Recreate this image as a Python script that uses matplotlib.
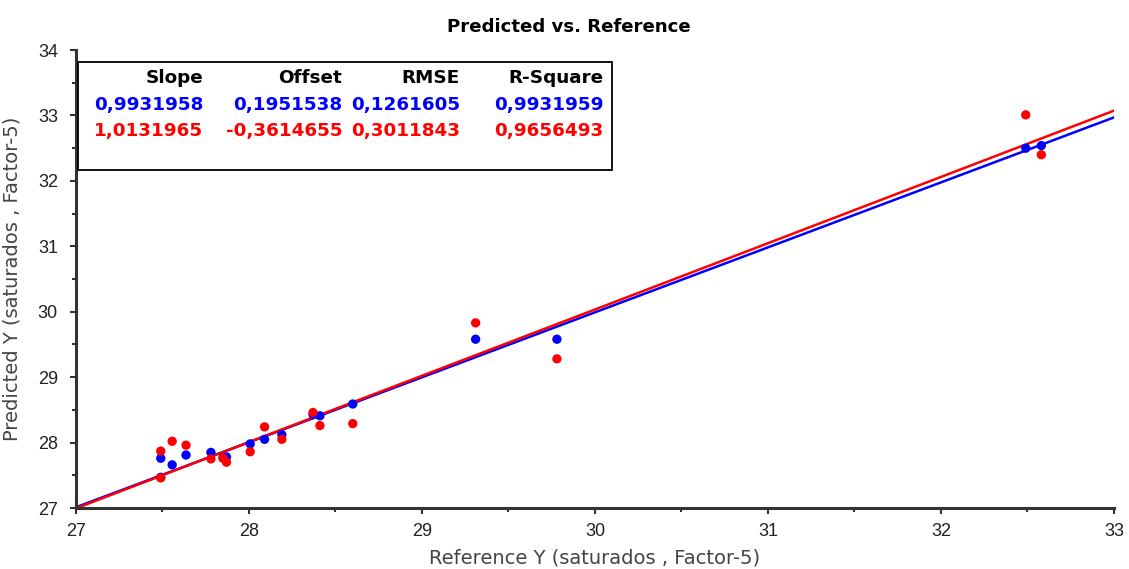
import matplotlib
matplotlib.use("Agg")
import matplotlib.pyplot as plt
import numpy as np
from matplotlib.ticker import MultipleLocator
from matplotlib.patches import Rectangle

plt.rcParams['font.family'] = ['DejaVu Sans']

# reference values (shared by both series)
reference = [27.49, 27.49, 27.556, 27.636, 27.78, 27.85, 27.87, 28.007, 28.09,
             28.19, 28.37, 28.41, 28.60, 29.31, 29.78, 32.49, 32.58]
# predicted, calibration (blue)
pred_blue = [27.76, 27.47, 27.66, 27.81, 27.85, 27.77, 27.78, 27.98, 28.05,
             28.12, 28.43, 28.41, 28.59, 29.58, 29.58, 32.50, 32.54]
# predicted, validation (red)
pred_red = [27.87, 27.46, 28.02, 27.96, 27.75, 27.76, 27.70, 27.86, 28.24,
            28.05, 28.46, 28.26, 28.29, 29.83, 29.28, 33.01, 32.40]

stat_names = ["Slope", "Offset", "RMSE", "R-Square"]
stats_blue = [0.9931958, 0.1951538, 0.1261605, 0.9931959]
stats_red = [1.0131965, -0.3614655, 0.3011843, 0.9656493]

BLUE = '#0000ff'
RED = '#ff0000'
AXIS_GREY = '#333333'


def fmt(v):
    return f"{v:.7f}".replace(".", ",")


fig = plt.figure(figsize=(11.29, 5.69), dpi=100)
ax = fig.add_axes([0.0673, 0.1072, 0.9194, 0.8048])

# regression lines from slope / offset
xs = np.array([27, 33])
ax.plot(xs, stats_blue[0] * xs + stats_blue[1], color=BLUE, lw=1.8, zorder=2)
ax.plot(xs, stats_red[0] * xs + stats_red[1], color=RED, lw=1.8, zorder=2)

ax.scatter(reference, pred_blue, s=45, color=BLUE, edgecolors='none', zorder=3)
ax.scatter(reference, pred_red, s=45, color=RED, edgecolors='none', zorder=4)

ax.set_xlim(27, 33)
ax.set_ylim(27, 34)
ax.xaxis.set_major_locator(MultipleLocator(1))
ax.xaxis.set_minor_locator(MultipleLocator(0.5))
ax.yaxis.set_major_locator(MultipleLocator(1))
ax.yaxis.set_minor_locator(MultipleLocator(0.5))

for side in ['top', 'right']:
    ax.spines[side].set_visible(False)
for side in ['left', 'bottom']:
    ax.spines[side].set_linewidth(2.2)
    ax.spines[side].set_color(AXIS_GREY)

ax.tick_params(which='major', length=4, width=1.5, colors=AXIS_GREY,
               labelsize=13, labelcolor='#222222', labelfontfamily='Liberation Sans')
ax.tick_params(which='minor', length=3, width=1.5, colors=AXIS_GREY)
ax.tick_params(axis='x', which='major', pad=7)
ax.tick_params(axis='y', which='major', pad=9)

fig.text(0.504, 0.953, "Predicted vs. Reference", ha='center', va='center',
         fontsize=13.1, fontweight='bold', color='black')
ax.set_xlabel("Reference Y (saturados , Factor-5)", fontsize=14, color='#444444')
ax.set_ylabel("Predicted Y (saturados , Factor-5)", fontsize=14, color='#444444')
ax.xaxis.label.set_va('center')
ax.yaxis.label.set_va('center')
ax.xaxis.set_label_coords(0.5, -0.109)
ax.yaxis.set_label_coords(-0.0615, 0.5)

# statistics box
box = Rectangle((0.002, 0.738), 0.514, 0.236, transform=ax.transAxes,
                facecolor='white', edgecolor='black', lw=1.3, zorder=5)
ax.add_patch(box)
col_right = [0.1225, 0.2565, 0.370, 0.508]
row_y = [0.940, 0.881, 0.824]
for i, name in enumerate(stat_names):
    ax.text(col_right[i], row_y[0], name, transform=ax.transAxes, ha='right', va='center',
            fontsize=13.2, fontweight='bold', color='black', zorder=6)
    ax.text(col_right[i], row_y[1], fmt(stats_blue[i]), transform=ax.transAxes, ha='right',
            va='center', fontsize=13.2, fontweight='bold', color=BLUE, zorder=6)
    ax.text(col_right[i], row_y[2], fmt(stats_red[i]), transform=ax.transAxes, ha='right',
            va='center', fontsize=13.2, fontweight='bold', color=RED, zorder=6)

fig.savefig("out.png", dpi=100)
